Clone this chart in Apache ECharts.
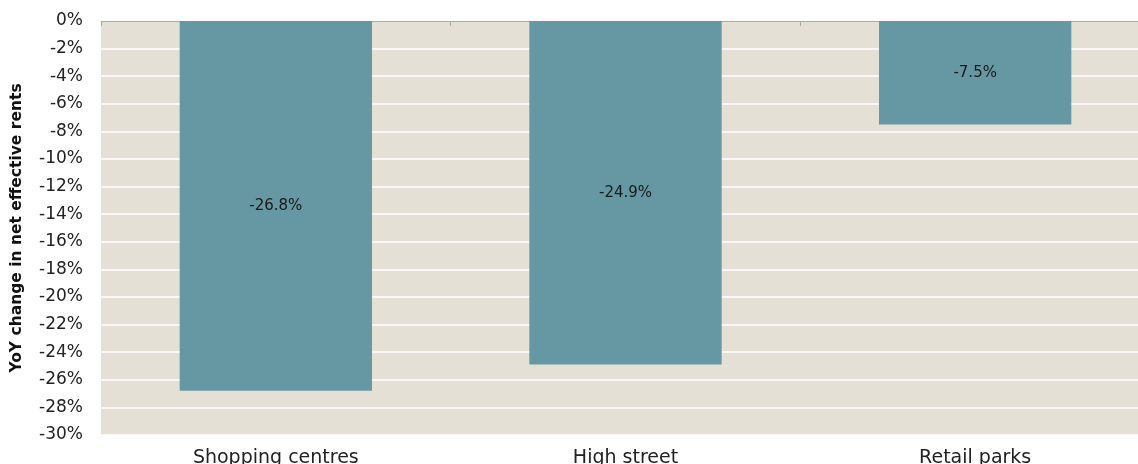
<!DOCTYPE html>
<html>
<head>
<meta charset="utf-8">
<script src="https://cdn.jsdelivr.net/npm/echarts@6/dist/echarts.min.js"></script>
<style>
  html, body { margin: 0; padding: 0; background: #fff; }
  #chart { width: 1138px; height: 464px; }
</style>
</head>
<body>
<div id="chart"></div>
<script>
var categories = ['Shopping centres', 'High street', 'Retail parks'];
var rentChange = [-26.8, -24.9, -7.5];
var yMin = -30, yMax = 0, yStep = 2;

var chart = echarts.init(document.getElementById('chart'));

var option = {
  animation: false,
  textStyle: { fontFamily: 'DejaVu Sans' },
  grid: {
    left: 101, top: 21, width: 1049, height: 414,
    outerBoundsMode: 'none',
    show: true, backgroundColor: '#e5e0d5', borderWidth: 0
  },
  xAxis: [
    {
      // thin top line with small ticks between the categories
      type: 'category',
      position: 'top',
      data: categories,
      axisLine: { show: true, onZero: false, lineStyle: { color: '#aaaaaa', width: 1 } },
      axisTick: { show: true, inside: true, length: 5, lineStyle: { color: '#aaaaaa' } },
      axisLabel: { show: false }
    },
    {
      type: 'category',
      position: 'bottom',
      data: categories,
      axisLine: { show: false },
      axisTick: { show: false },
      axisLabel: { color: '#222', fontSize: 19, margin: 14, fontFamily: 'DejaVu Sans' }
    }
  ],
  yAxis: {
    type: 'value',
    min: yMin, max: yMax, interval: yStep,
    name: 'YoY change in net effective rents',
    nameLocation: 'middle',
    nameGap: 76,
    nameTextStyle: { color: '#111', fontSize: 15.5, fontWeight: 'bold', fontFamily: 'DejaVu Sans' },
    axisLine: { show: false },
    axisTick: { show: false },
    axisLabel: { color: '#222', fontSize: 17, margin: 18, formatter: '{value}%', fontFamily: 'DejaVu Sans' },
    splitLine: { show: true, lineStyle: { color: '#ffffff', width: 1.5 } }
  },
  series: [{
    type: 'bar',
    xAxisIndex: 0,
    data: rentChange,
    barWidth: '55%',
    itemStyle: { color: '#6598a2' },
    label: {
      show: true,
      position: 'inside',
      color: '#1a1a1a',
      fontSize: 15,
      fontFamily: 'DejaVu Sans',
      formatter: function (p) { return p.value.toFixed(1) + '%'; }
    }
  }]
};

chart.setOption(option);
</script>
</body>
</html>
